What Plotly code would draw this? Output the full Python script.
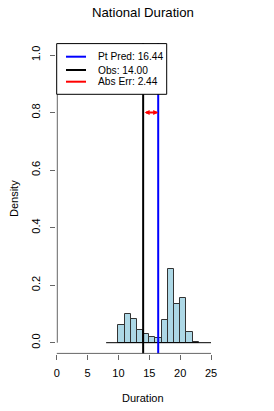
import plotly.graph_objects as go

# ---- data ----
bin_left = [10, 11, 12, 13, 14, 15, 16, 17, 18, 19, 20, 21, 22]
density = [0.060, 0.099, 0.081, 0.043, 0.029, 0.021, 0.015, 0.079, 0.255, 0.134, 0.156, 0.038, 0.004]
bin_width = 1
pt_pred = 16.44
obs = 14.00
abs_err = abs(pt_pred - obs)
base_line_x = [8, 25]
arrow_y = 0.8
x_ticks = [0, 5, 10, 15, 20, 25]
y_ticks = [0.0, 0.2, 0.4, 0.6, 0.8, 1.0]
y_tick_labels = ["0.0", "0.2", "0.4", "0.6", "0.8", "1.0"]
title = "National Duration"
x_title = "Duration"
y_title = "Density"

# ---- geometry ----
W, H = 274, 411
L, R, T, B = 56, 44, 43, 57
pw, ph = W - L - R, H - T - B
x0px, x25px = 56.8, 211.0
sx = (x25px - x0px) / 25
xr = [-(x0px - L) / sx, 25 + (W - R - x25px) / sx]
y0px, y1px = 342.7, 55.0
sy = y0px - y1px
yr = [-(H - B - y0px) / sy, 1 + (y1px - T) / sy]


def px(x):
    return (x - L) / pw


def py(y):
    return (H - B - y) / ph


FONT = "Liberation Sans, Arial, sans-serif"
AXC = "#666666"

fig = go.Figure()
fig.add_trace(go.Bar(
    x=[b + bin_width / 2 for b in bin_left], y=density, width=bin_width,
    marker=dict(color="#ADD8E6", line=dict(color="#333333", width=1)),
    hoverinfo="skip"))
fig.add_trace(go.Scatter(x=base_line_x, y=[0, 0], mode="lines",
                         line=dict(color="black", width=1)))
fig.add_trace(go.Scatter(x=[obs, obs], y=yr, mode="lines",
                         line=dict(color="black", width=2)))
fig.add_trace(go.Scatter(x=[pt_pred, pt_pred], y=yr, mode="lines",
                         line=dict(color="blue", width=2)))

shapes = [
    # y axis line (0..1)
    dict(type="line", xref="x", yref="y", x0=0.5 / sx, x1=0.5 / sx, y0=0, y1=1,
         line=dict(color=AXC, width=1)),
    # x axis line (0..25)
    dict(type="line", xref="x", yref="y", x0=0, x1=25,
         y0=yr[0] + 0.6 / sy, y1=yr[0] + 0.6 / sy, line=dict(color=AXC, width=1)),
    # legend box
    dict(type="rect", xref="paper", yref="paper", layer="above",
         x0=px(56.7), x1=px(166.7), y0=py(94.3), y1=py(43.6),
         fillcolor="white", line=dict(color="black", width=1)),
]
leg_items = [
    (f"Pt Pred: {pt_pred:.2f}", "blue", 56.7),
    (f"Obs: {obs:.2f}", "black", 70.0),
    (f"Abs Err: {abs_err:.2f}", "red", 81.7),
]
annotations = []
for text, col, ypx in leg_items:
    shapes.append(dict(type="line", xref="paper", yref="paper", layer="above",
                       x0=px(66), x1=px(86), y0=py(ypx), y1=py(ypx),
                       line=dict(color=col, width=2)))
    annotations.append(dict(text=text, xref="paper", yref="paper", x=px(95.5), y=py(ypx),
                            xanchor="left", yanchor="middle", showarrow=False,
                            font=dict(size=10.2, color="black", family=FONT)))

# abs error arrow
annotations.append(dict(x=pt_pred, y=arrow_y, ax=obs, ay=arrow_y, axref="x", ayref="y",
                        xref="x", yref="y", text="", showarrow=True,
                        arrowside="end+start", arrowhead=2, arrowsize=0.5,
                        arrowwidth=2, arrowcolor="red", standoff=0, startstandoff=0))
# titles
annotations.append(dict(text=title, xref="paper", yref="paper", x=px(143.3), y=py(12.5),
                        xanchor="center", yanchor="middle", showarrow=False,
                        font=dict(size=13.2, color="black", family=FONT)))
annotations.append(dict(text=x_title, xref="paper", yref="paper", x=px(143.3), y=py(397.5),
                        xanchor="center", yanchor="middle", showarrow=False,
                        font=dict(size=11, color="black", family=FONT)))
annotations.append(dict(text=y_title, xref="paper", yref="paper", x=px(14), y=py(199),
                        xanchor="center", yanchor="middle", showarrow=False, textangle=-90,
                        font=dict(size=11, color="black", family=FONT)))

fig.update_layout(
    width=W, height=H, margin=dict(l=L, r=R, t=T, b=B, pad=0),
    paper_bgcolor="white", plot_bgcolor="white", showlegend=False,
    shapes=shapes, annotations=annotations, bargap=0,
    font=dict(family=FONT, size=11, color="black"),
    xaxis=dict(range=xr, tickvals=x_ticks, ticktext=[str(v) for v in x_ticks],
               showgrid=False, zeroline=False, showline=False,
               ticks="outside", ticklen=5, tickcolor=AXC, tickwidth=1,
               tickfont=dict(size=11, family=FONT), ticklabelstandoff=4),
    yaxis=dict(range=yr, tickvals=y_ticks, ticktext=y_tick_labels, tickangle=-90,
               showgrid=False, zeroline=False, showline=False,
               ticks="outside", ticklen=5, tickcolor=AXC, tickwidth=1,
               tickfont=dict(size=11, family=FONT), ticklabelstandoff=6),
)

fig.write_html("out.html", config={"displayModeBar": False},
               post_script="document.body.style.margin='0';")
